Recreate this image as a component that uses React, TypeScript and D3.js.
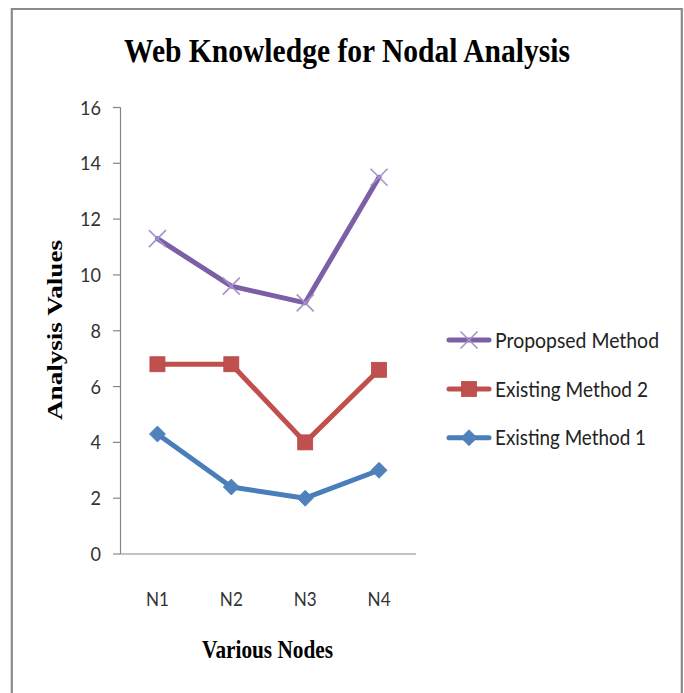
import React from "react";
import * as d3 from "d3";

const categories = ["N1", "N2", "N3", "N4"];
const proposed = [11.3, 9.6, 9.0, 13.5];
const existing2 = [6.8, 6.8, 4.0, 6.6];
const existing1 = [4.3, 2.4, 2.0, 3.0];
const yTicks = [0, 2, 4, 6, 8, 10, 12, 14, 16];
const seriesNames = ["Propopsed Method", "Existing Method 2", "Existing Method 1"];

const W = 684;
const H = 693;

const x = d3.scaleBand<string>().domain(categories).range([120.5, 416]);
const y = d3.scaleLinear().domain([0, 16]).range([554, 107.5]);
const cx = (c: string) => (x(c) as number) + x.bandwidth() / 2;

const lineGen = d3
  .line<[string, number]>()
  .x((d) => cx(d[0]))
  .y((d) => y(d[1]));

const sans = "Lato, 'Open Sans', sans-serif";
const serif = "'Liberation Serif', 'Times New Roman', serif";

function XMark({ px, py }: { px: number; py: number }) {
  const s = 8.5;
  return (
    <g stroke="#A592C9" strokeWidth={1.6}>
      <line x1={px - s} y1={py - s} x2={px + s} y2={py + s} />
      <line x1={px - s} y1={py + s} x2={px + s} y2={py - s} />
    </g>
  );
}
function Square({ px, py }: { px: number; py: number }) {
  const s = 7.5;
  return <rect x={px - s} y={py - s} width={2 * s} height={2 * s} fill="#C0504D" stroke="#B9484A" strokeWidth={0.8} />;
}
function Diamond({ px, py }: { px: number; py: number }) {
  const s = 8;
  return (
    <path
      d={`M${px},${py - s}L${px + s},${py}L${px},${py + s}L${px - s},${py}Z`}
      fill="#4F81BD"
      stroke="#4A7CB8"
      strokeWidth={0.8}
    />
  );
}

export default function App() {
  const series = [
    { name: seriesNames[2], values: existing1, color: "#4A7EBB", mark: Diamond },
    { name: seriesNames[1], values: existing2, color: "#C0504D", mark: Square },
    { name: seriesNames[0], values: proposed, color: "#7D5FA6", mark: XMark },
  ];
  const legend = [
    { name: seriesNames[0], color: "#7D5FA6", mark: XMark, len: 164 },
    { name: seriesNames[1], color: "#C0504D", mark: Square, len: 153 },
    { name: seriesNames[2], color: "#4A7EBB", mark: Diamond, len: 151 },
  ];
  const legendY = [340, 389, 437.7];
  return (
    <svg width={W} height={H} style={{ position: "absolute", left: 0, top: 0, background: "#fff" }}>
      <rect x={0} y={0} width={W} height={H} fill="#fff" />
      <path d={`M11.8,${H + 5}V9H681.8V${H + 5}`} fill="none" stroke="#8A8A8A" strokeWidth={2.2} />
      <text
        x={347}
        y={62}
        textAnchor="middle"
        fontFamily={serif}
        fontWeight="bold"
        fontSize={33}
        textLength={446}
        lengthAdjust="spacingAndGlyphs"
        fill="#000"
      >
        Web Knowledge for Nodal Analysis
      </text>
      {/* axes */}
      <line x1={120.5} y1={107.5} x2={120.5} y2={554} stroke="#868686" strokeWidth={1.2} />
      <line x1={120.5} y1={554} x2={416} y2={554} stroke="#868686" strokeWidth={1.2} />
      {yTicks.map((t) => (
        <g key={t}>
          <line x1={113} x2={120.5} y1={y(t)} y2={y(t)} stroke="#868686" strokeWidth={1.2} />
          <text
            x={101}
            y={y(t) + 7}
            textAnchor="end"
            fontFamily={sans}
            fontSize={19.5}
            fill="#333"
            textLength={String(t).length * 10.5}
            lengthAdjust="spacingAndGlyphs"
          >
            {t}
          </text>
        </g>
      ))}
      {categories.map((c) => (
        <text
          key={c}
          x={cx(c)}
          y={606}
          textAnchor="middle"
          fontFamily={sans}
          fontSize={20}
          fill="#333"
          textLength={23}
          lengthAdjust="spacingAndGlyphs"
        >
          {c}
        </text>
      ))}
      <text
        transform="translate(61.5,330) rotate(-90)"
        textAnchor="middle"
        fontFamily={serif}
        fontWeight="bold"
        fontSize={22}
        textLength={180}
        lengthAdjust="spacingAndGlyphs"
        fill="#000"
      >
        Analysis Values
      </text>
      <text
        x={267.5}
        y={658}
        textAnchor="middle"
        fontFamily={serif}
        fontWeight="bold"
        fontSize={26}
        textLength={131}
        lengthAdjust="spacingAndGlyphs"
        fill="#000"
      >
        Various Nodes
      </text>
      {/* series */}
      {series.map((s) => {
        const pts = categories.map((c, i) => [c, s.values[i]] as [string, number]);
        const M = s.mark;
        return (
          <g key={s.name}>
            <path d={lineGen(pts) || ""} fill="none" stroke={s.color} strokeWidth={5} strokeLinejoin="round" strokeLinecap="round" />
            {pts.map((p) => (
              <M key={p[0]} px={cx(p[0])} py={y(p[1])} />
            ))}
          </g>
        );
      })}
      {/* legend */}
      {legend.map((l, i) => {
        const M = l.mark;
        const ly = legendY[i];
        return (
          <g key={l.name}>
            <line x1={449} x2={489} y1={ly} y2={ly} stroke={l.color} strokeWidth={5} strokeLinecap="round" />
            <M px={469} py={ly} />
            <text
              x={495}
              y={ly + 7.5}
              fontFamily={sans}
              fontSize={22}
              fill="#222"
              textLength={l.len}
              lengthAdjust="spacingAndGlyphs"
            >
              {l.name}
            </text>
          </g>
        );
      })}
    </svg>
  );
}
